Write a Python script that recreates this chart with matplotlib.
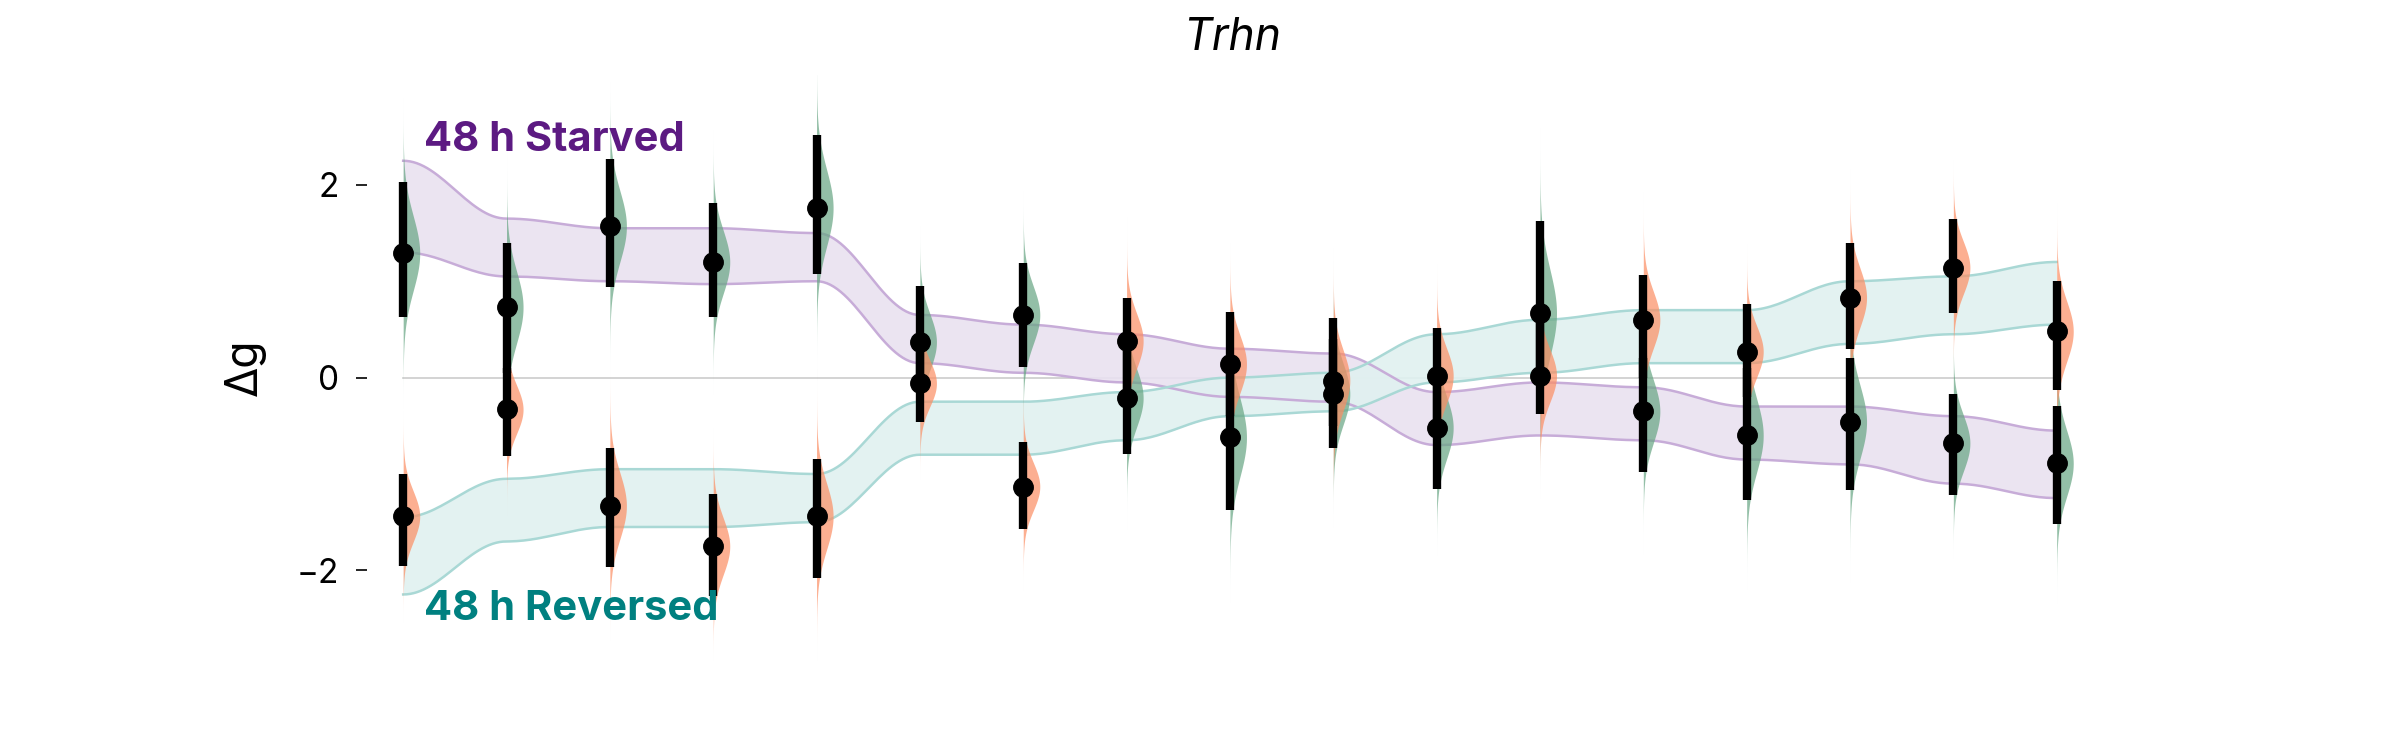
import numpy as np
import matplotlib.pyplot as plt
from matplotlib.path import Path
from matplotlib.patches import PathPatch

plt.rcParams['font.family'] = ['Inter', 'DejaVu Sans']

# posterior summaries per gene position (starved = green, reversed = orange)
pos = np.arange(17)
starved_mean = [1.29, 0.73, 1.57, 1.20, 1.76, 0.37, 0.65, -0.21, -0.62, -0.17, -0.52, 0.67, -0.35, -0.60, -0.46, -0.68, -0.89]
starved_lo = [0.63, 0.05, 0.94, 0.63, 1.08, -0.10, 0.11, -0.79, -1.37, -0.73, -1.16, 0.00, -0.98, -1.27, -1.17, -1.22, -1.52]
starved_hi = [2.03, 1.40, 2.27, 1.81, 2.52, 0.95, 1.19, 0.30, 0.10, 0.40, 0.00, 1.62, 0.20, 0.10, 0.20, -0.17, -0.29]
reversed_mean = [-1.44, -0.33, -1.33, -1.75, -1.44, -0.06, -1.13, 0.38, 0.14, -0.03, 0.02, 0.02, 0.60, 0.27, 0.83, 1.14, 0.48]
reversed_lo = [-1.95, -0.81, -1.97, -2.27, -2.08, -0.46, -1.57, -0.20, -0.40, -0.50, -0.50, -0.38, 0.00, -0.20, 0.30, 0.67, -0.13]
reversed_hi = [-1.00, 0.10, -0.73, -1.21, -0.84, 0.40, -0.67, 0.83, 0.68, 0.62, 0.52, 0.60, 1.06, 0.76, 1.40, 1.65, 1.00]

# background bands (upper / lower edges)
starv_band_hi = [2.25, 1.65, 1.55, 1.55, 1.5, 0.65, 0.55, 0.45, 0.3, 0.25, -0.15, -0.05, -0.1, -0.3, -0.3, -0.4, -0.55]
starv_band_lo = [1.3, 1.05, 1.0, 0.97, 1.0, 0.15, 0.05, -0.05, -0.2, -0.25, -0.7, -0.6, -0.65, -0.85, -0.9, -1.1, -1.25]
rev_band_hi = [-1.45, -1.05, -0.95, -0.95, -1.0, -0.25, -0.25, -0.15, 0.0, 0.05, 0.45, 0.6, 0.7, 0.7, 1.0, 1.05, 1.2]
rev_band_lo = [-2.25, -1.7, -1.55, -1.55, -1.5, -0.8, -0.8, -0.65, -0.4, -0.35, -0.05, 0.05, 0.15, 0.15, 0.35, 0.45, 0.55]

GREEN = '#66a582'
ORANGE = '#fc8d62'


def smooth(xs, ys, n=30):
    # cosine blending between anchors, gives the soft wavy look
    xo, yo = [], []
    for i in range(len(xs) - 1):
        t = np.linspace(0, 1, n, endpoint=False)
        w = (1 - np.cos(np.pi * t)) / 2
        xo.extend(xs[i] + (xs[i + 1] - xs[i]) * t)
        yo.extend(ys[i] + (ys[i + 1] - ys[i]) * w)
    xo.append(xs[-1]); yo.append(ys[-1])
    return np.array(xo), np.array(yo)


fig = plt.figure(figsize=(24, 7.5), dpi=100)
ax = fig.add_axes([367 / 2400, 1 - 660 / 750, (2097 - 367) / 2400, (660 - 75) / 750])

for hi, lo, fc, ec in [(starv_band_hi, starv_band_lo, '#e9e1f0', '#c7acd8'),
                       (rev_band_hi, rev_band_lo, '#e0f1f0', '#a9d8d5')]:
    xs, yh = smooth(pos, hi)
    _, yl = smooth(pos, lo)
    ax.fill_between(xs, yl, yh, color=fc, alpha=0.9, lw=0, zorder=1)
    ax.plot(xs, yh, color=ec, lw=1.8, zorder=1.5)
    ax.plot(xs, yl, color=ec, lw=1.8, zorder=1.5)

ax.axhline(0, xmin=(0 + 0.35) / 16.74, xmax=(16 + 0.35) / 16.74, color='#cccccc', lw=1.2, zorder=0.5)

for m_list, lo_list, hi_list, col in [(starved_mean, starved_lo, starved_hi, GREEN),
                                      (reversed_mean, reversed_lo, reversed_hi, ORANGE)]:
    for x, m, lo, hi in zip(pos, m_list, lo_list, hi_list):
        sd = (hi - lo) / 3.6
        yy = np.linspace(m - 4.5 * sd, m + 4.5 * sd, 200)
        dens = np.exp(-0.5 * ((yy - m) / sd) ** 2)
        ax.fill_betweenx(yy, x, x + 0.16 * dens, color=col, alpha=0.7, lw=0, zorder=2)
        ax.plot([x, x], [lo, hi], color='black', lw=6, solid_capstyle='butt', zorder=3)
        ax.plot(x, m, 'o', color='black', ms=14, zorder=4)

ax.set_xlim(-0.35, 16.39)
ax.set_ylim(-2.93, 3.14)
for s in ax.spines.values():
    s.set_visible(False)
ax.set_xticks([])
ax.set_yticks([-2, 0, 2])
ax.set_yticklabels(['\u22122', '0', '2'])
ax.tick_params(axis='y', labelsize=24, length=8, width=1.2, pad=12)
ax.set_ylabel('Δg', fontsize=32, labelpad=22)
ax.set_title('Trhn', fontsize=32, style='italic', pad=18)

ax.text(0.2, 2.47, '48 h Starved', color='#5c1a82', fontsize=30, fontweight='bold', va='center')
ax.text(0.2, -2.4, '48 h Reversed', color='#008080', fontsize=30, fontweight='bold', va='center')

fig.savefig('out.png', dpi=100)
